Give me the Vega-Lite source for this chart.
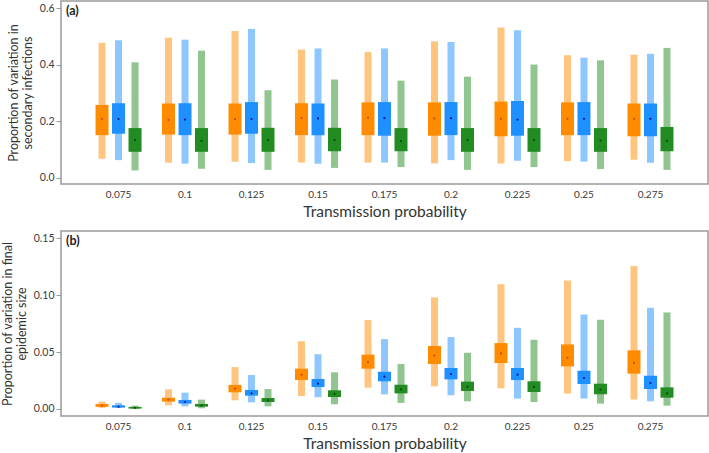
{
  "$schema": "https://vega.github.io/schema/vega-lite/v6.json",
  "padding": {"left": 0, "top": 0, "right": 1, "bottom": 0},
  "spacing": 9,
  "config": {
    "font": "Lato",
    "view": {"stroke": "#9a9a9a", "strokeWidth": 1.5},
    "axis": {"grid": false, "domain": false, "labelColor": "#3a3a3a", "titleColor": "#333333", "titleFontWeight": "normal"},
    "axisY": {"tickColor": "#999999", "tickSize": 5, "labelFontSize": 10.5, "titleFontSize": 12.5, "titleLineHeight": 14, "titlePadding": 5},
    "axisX": {"ticks": false, "labelFontSize": 10, "labelPadding": 5, "labelAngle": 0, "titleFontSize": 15.5, "titlePadding": 5},
    "title": {"anchor": "start", "frame": "group", "fontSize": 12.5, "fontWeight": "bold", "color": "#222222", "offset": -16, "dx": 5}
  },
  "datasets": {
    "a": [
      {"p": "0.075", "s": "A", "lo": 0.067, "q1": 0.151, "m": 0.209, "q3": 0.258, "hi": 0.478},
      {"p": "0.075", "s": "B", "lo": 0.0625, "q1": 0.156, "m": 0.208, "q3": 0.264, "hi": 0.487},
      {"p": "0.075", "s": "C", "lo": 0.026, "q1": 0.092, "m": 0.134, "q3": 0.176, "hi": 0.409},
      {"p": "0.1", "s": "A", "lo": 0.053, "q1": 0.153, "m": 0.205, "q3": 0.263, "hi": 0.496},
      {"p": "0.1", "s": "B", "lo": 0.050, "q1": 0.151, "m": 0.206, "q3": 0.264, "hi": 0.489},
      {"p": "0.1", "s": "C", "lo": 0.032, "q1": 0.092, "m": 0.131, "q3": 0.176, "hi": 0.450},
      {"p": "0.125", "s": "A", "lo": 0.057, "q1": 0.153, "m": 0.208, "q3": 0.263, "hi": 0.520},
      {"p": "0.125", "s": "B", "lo": 0.052, "q1": 0.156, "m": 0.208, "q3": 0.268, "hi": 0.527},
      {"p": "0.125", "s": "C", "lo": 0.028, "q1": 0.092, "m": 0.134, "q3": 0.177, "hi": 0.310},
      {"p": "0.15", "s": "A", "lo": 0.054, "q1": 0.151, "m": 0.211, "q3": 0.264, "hi": 0.454},
      {"p": "0.15", "s": "B", "lo": 0.050, "q1": 0.151, "m": 0.210, "q3": 0.263, "hi": 0.458},
      {"p": "0.15", "s": "C", "lo": 0.035, "q1": 0.094, "m": 0.134, "q3": 0.177, "hi": 0.348},
      {"p": "0.175", "s": "A", "lo": 0.054, "q1": 0.151, "m": 0.213, "q3": 0.267, "hi": 0.445},
      {"p": "0.175", "s": "B", "lo": 0.054, "q1": 0.149, "m": 0.211, "q3": 0.268, "hi": 0.458},
      {"p": "0.175", "s": "C", "lo": 0.038, "q1": 0.094, "m": 0.130, "q3": 0.176, "hi": 0.344},
      {"p": "0.2", "s": "A", "lo": 0.051, "q1": 0.149, "m": 0.210, "q3": 0.267, "hi": 0.483},
      {"p": "0.2", "s": "B", "lo": 0.0625, "q1": 0.151, "m": 0.211, "q3": 0.268, "hi": 0.481},
      {"p": "0.2", "s": "C", "lo": 0.028, "q1": 0.092, "m": 0.134, "q3": 0.176, "hi": 0.358},
      {"p": "0.225", "s": "A", "lo": 0.051, "q1": 0.147, "m": 0.209, "q3": 0.270, "hi": 0.532},
      {"p": "0.225", "s": "B", "lo": 0.060, "q1": 0.149, "m": 0.206, "q3": 0.272, "hi": 0.522},
      {"p": "0.225", "s": "C", "lo": 0.038, "q1": 0.092, "m": 0.134, "q3": 0.176, "hi": 0.401},
      {"p": "0.25", "s": "A", "lo": 0.059, "q1": 0.151, "m": 0.209, "q3": 0.267, "hi": 0.434},
      {"p": "0.25", "s": "B", "lo": 0.057, "q1": 0.151, "m": 0.209, "q3": 0.268, "hi": 0.425},
      {"p": "0.25", "s": "C", "lo": 0.031, "q1": 0.092, "m": 0.132, "q3": 0.176, "hi": 0.416},
      {"p": "0.275", "s": "A", "lo": 0.064, "q1": 0.147, "m": 0.209, "q3": 0.263, "hi": 0.436},
      {"p": "0.275", "s": "B", "lo": 0.053, "q1": 0.147, "m": 0.209, "q3": 0.263, "hi": 0.439},
      {"p": "0.275", "s": "C", "lo": 0.028, "q1": 0.094, "m": 0.131, "q3": 0.180, "hi": 0.460}
    ],
    "b": [
      {"p": "0.075", "s": "A", "lo": 0.0009, "q1": 0.0018, "m": 0.003, "q3": 0.0044, "hi": 0.0064},
      {"p": "0.075", "s": "B", "lo": 0.0009, "q1": 0.0012, "m": 0.002, "q3": 0.0032, "hi": 0.0053},
      {"p": "0.075", "s": "C", "lo": 0.0, "q1": 0.0003, "m": 0.001, "q3": 0.0018, "hi": 0.0029},
      {"p": "0.1", "s": "A", "lo": 0.0032, "q1": 0.0064, "m": 0.0082, "q3": 0.0099, "hi": 0.0173},
      {"p": "0.1", "s": "B", "lo": 0.0023, "q1": 0.0047, "m": 0.0061, "q3": 0.0079, "hi": 0.0143},
      {"p": "0.1", "s": "C", "lo": 0.0006, "q1": 0.002, "m": 0.003, "q3": 0.0044, "hi": 0.0082},
      {"p": "0.125", "s": "A", "lo": 0.0076, "q1": 0.0146, "m": 0.0178, "q3": 0.0211, "hi": 0.0368},
      {"p": "0.125", "s": "B", "lo": 0.0058, "q1": 0.0117, "m": 0.0137, "q3": 0.0167, "hi": 0.0298},
      {"p": "0.125", "s": "C", "lo": 0.0023, "q1": 0.0061, "m": 0.0076, "q3": 0.0096, "hi": 0.0175},
      {"p": "0.15", "s": "A", "lo": 0.0114, "q1": 0.0254, "m": 0.0301, "q3": 0.0354, "hi": 0.0596},
      {"p": "0.15", "s": "B", "lo": 0.0102, "q1": 0.0193, "m": 0.0222, "q3": 0.0263, "hi": 0.048},
      {"p": "0.15", "s": "C", "lo": 0.0041, "q1": 0.0105, "m": 0.0132, "q3": 0.0164, "hi": 0.0322},
      {"p": "0.175", "s": "A", "lo": 0.0187, "q1": 0.0354, "m": 0.0412, "q3": 0.0477, "hi": 0.0781},
      {"p": "0.175", "s": "B", "lo": 0.0129, "q1": 0.0243, "m": 0.0284, "q3": 0.0327, "hi": 0.0614},
      {"p": "0.175", "s": "C", "lo": 0.0053, "q1": 0.0137, "m": 0.0173, "q3": 0.0213, "hi": 0.0395},
      {"p": "0.2", "s": "A", "lo": 0.0199, "q1": 0.0395, "m": 0.0468, "q3": 0.0553, "hi": 0.098},
      {"p": "0.2", "s": "B", "lo": 0.012, "q1": 0.026, "m": 0.0307, "q3": 0.036, "hi": 0.0632},
      {"p": "0.2", "s": "C", "lo": 0.0067, "q1": 0.0158, "m": 0.0193, "q3": 0.024, "hi": 0.0494},
      {"p": "0.225", "s": "A", "lo": 0.0181, "q1": 0.0404, "m": 0.0488, "q3": 0.0579, "hi": 0.1096},
      {"p": "0.225", "s": "B", "lo": 0.0091, "q1": 0.0254, "m": 0.0301, "q3": 0.036, "hi": 0.0713},
      {"p": "0.225", "s": "C", "lo": 0.0061, "q1": 0.0149, "m": 0.0193, "q3": 0.0243, "hi": 0.0608},
      {"p": "0.25", "s": "A", "lo": 0.0135, "q1": 0.0374, "m": 0.045, "q3": 0.0567, "hi": 0.1129},
      {"p": "0.25", "s": "B", "lo": 0.0091, "q1": 0.0219, "m": 0.0272, "q3": 0.0336, "hi": 0.083},
      {"p": "0.25", "s": "C", "lo": 0.0047, "q1": 0.0129, "m": 0.017, "q3": 0.0222, "hi": 0.0784},
      {"p": "0.275", "s": "A", "lo": 0.0082, "q1": 0.031, "m": 0.0404, "q3": 0.0515, "hi": 0.1257},
      {"p": "0.275", "s": "B", "lo": 0.0067, "q1": 0.0175, "m": 0.0228, "q3": 0.0292, "hi": 0.0889},
      {"p": "0.275", "s": "C", "lo": 0.0029, "q1": 0.0099, "m": 0.0137, "q3": 0.019, "hi": 0.0848}
    ]
  },
  "vconcat": [
    {
      "width": 647,
      "height": 183,
      "title": "(a)",
      "data": {"name": "a"},
      "encoding": {
        "x": {"field": "p", "type": "ordinal", "sort": null, "title": "Transmission probability", "scale": {"paddingInner": 0, "paddingOuter": 0.365}},
        "xOffset": {"field": "s", "type": "nominal", "scale": {"paddingInner": 0, "paddingOuter": 0.515}}
      },
      "layer": [
        {
          "mark": {"type": "bar", "size": 7, "opacity": 0.5},
          "encoding": {
            "y": {"field": "lo", "type": "quantitative", "scale": {"domain": [-0.022, 0.626], "nice": false, "zero": false}, "axis": {"values": [0, 0.1, 0.2, 0.3, 0.4, 0.5, 0.6], "format": ".1f"}, "title": ["Proportion of variation in", "secondary infections"]},
            "y2": {"field": "hi"},
            "color": {"field": "s", "type": "nominal", "scale": {"domain": ["A", "B", "C"], "range": ["#ff8c00", "#1e90ff", "#228b22"]}, "legend": null}
          }
        },
        {
          "mark": {"type": "bar", "size": 13},
          "encoding": {
            "y": {"field": "q1", "type": "quantitative"},
            "y2": {"field": "q3"},
            "color": {"field": "s", "type": "nominal", "scale": {"domain": ["A", "B", "C"], "range": ["#ff8c00", "#1e90ff", "#228b22"]}, "legend": null}
          }
        },
        {
          "mark": {"type": "point", "filled": true, "size": 5, "opacity": 1},
          "encoding": {
            "y": {"field": "m", "type": "quantitative"},
            "color": {"field": "s", "type": "nominal", "scale": {"domain": ["A", "B", "C"], "range": ["#c0501a", "#0a1a80", "#0a4a0a"]}, "legend": null}
          }
        }
      ],
      "resolve": {"scale": {"color": "independent"}}
    },
    {
      "width": 647,
      "height": 185,
      "title": "(b)",
      "data": {"name": "b"},
      "encoding": {
        "x": {"field": "p", "type": "ordinal", "sort": null, "title": "Transmission probability", "scale": {"paddingInner": 0, "paddingOuter": 0.365}},
        "xOffset": {"field": "s", "type": "nominal", "scale": {"paddingInner": 0, "paddingOuter": 0.515}}
      },
      "layer": [
        {
          "mark": {"type": "bar", "size": 7, "opacity": 0.5},
          "encoding": {
            "y": {"field": "lo", "type": "quantitative", "scale": {"domain": [-0.0062, 0.1564], "nice": false, "zero": false}, "axis": {"values": [0, 0.05, 0.1, 0.15], "format": ".2f"}, "title": ["Proportion of variation in final", "epidemic size"]},
            "y2": {"field": "hi"},
            "color": {"field": "s", "type": "nominal", "scale": {"domain": ["A", "B", "C"], "range": ["#ff8c00", "#1e90ff", "#228b22"]}, "legend": null}
          }
        },
        {
          "mark": {"type": "bar", "size": 13},
          "encoding": {
            "y": {"field": "q1", "type": "quantitative"},
            "y2": {"field": "q3"},
            "color": {"field": "s", "type": "nominal", "scale": {"domain": ["A", "B", "C"], "range": ["#ff8c00", "#1e90ff", "#228b22"]}, "legend": null}
          }
        },
        {
          "mark": {"type": "point", "filled": true, "size": 5, "opacity": 1},
          "encoding": {
            "y": {"field": "m", "type": "quantitative"},
            "color": {"field": "s", "type": "nominal", "scale": {"domain": ["A", "B", "C"], "range": ["#c0501a", "#0a1a80", "#0a4a0a"]}, "legend": null}
          }
        }
      ],
      "resolve": {"scale": {"color": "independent"}}
    }
  ]
}
